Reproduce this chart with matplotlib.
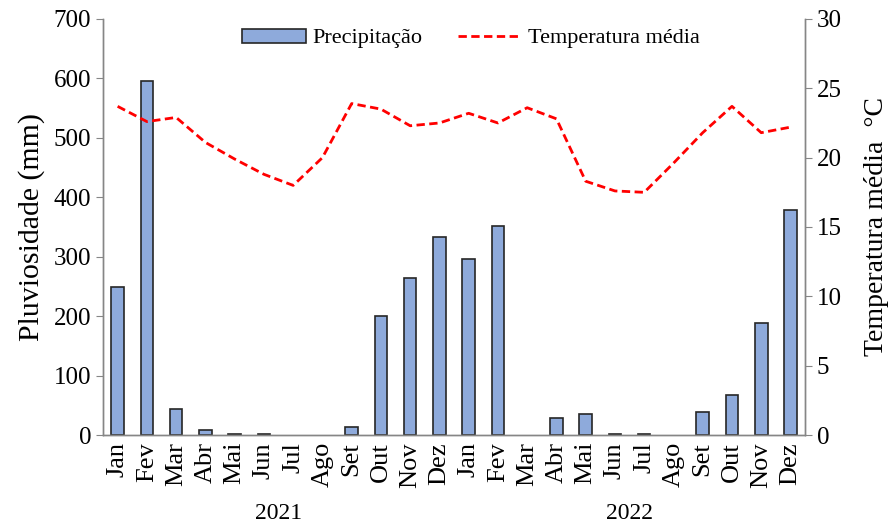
import matplotlib.pyplot as plt
import numpy as np

plt.rcParams['font.family'] = ['Liberation Serif', 'DejaVu Serif']

meses = ['Jan', 'Fev', 'Mar', 'Abr', 'Mai', 'Jun', 'Jul', 'Ago', 'Set', 'Out', 'Nov', 'Dez'] * 2
anos = ['2021', '2022']

# precipitação mensal (mm)
chuva = [249, 595, 43, 8, 1, 2, 0, 0, 14, 201, 264, 333,
         296, 351, 0, 28, 36, 1, 1, 0, 39, 67, 188, 378]
# temperatura média mensal (°C)
temp = [23.7, 22.6, 22.9, 21.1, 19.9, 18.8, 18.0, 20.0, 23.9, 23.5, 22.3, 22.5,
        23.2, 22.5, 23.6, 22.8, 18.3, 17.6, 17.5, 19.6, 21.8, 23.7, 21.8, 22.2]

x = np.arange(len(meses))

fig = plt.figure(figsize=(8.91, 5.24), dpi=100)
ax = fig.add_axes([0.1156, 0.1698, 0.788, 0.794])
ax2 = ax.twinx()

# meses sem chuva ficam sem contorno
bordas = [1.2 if v > 0 else 0 for v in chuva]
ax.bar(x, chuva, width=0.43, color='#8eaadb', edgecolor='#262626', linewidth=bordas,
       label='Precipitação', zorder=2)
ax2.plot(x, temp, color='#ff0000', linestyle=(0, (3, 1.6)), linewidth=2.0,
         label='Temperatura média', zorder=3)

ax.set_xlim(-0.5, len(meses) - 0.5)
ax.set_ylim(0, 700)
ax.set_yticks(range(0, 701, 100))
ax2.set_ylim(0, 30)
ax2.set_yticks(range(0, 31, 5))

ax.set_xticks(x)
ax.set_xticklabels(meses, rotation=90, fontsize=19)
ax.tick_params(axis='x', length=0, pad=5)
ax.tick_params(axis='y', labelsize=18, length=5, color='#868686', direction='out')
ax2.tick_params(axis='y', labelsize=18, length=5, color='#868686', direction='out')

for a in (ax, ax2):
    a.spines['top'].set_visible(False)
    for s in ('left', 'right', 'bottom'):
        a.spines[s].set_color('#868686')
        a.spines[s].set_linewidth(1.0)

ax.set_ylabel('Pluviosidade (mm)', fontsize=21.5, labelpad=6)
ax2.set_ylabel('Temperatura média  °C', fontsize=20, labelpad=16)

# rótulos dos anos abaixo dos meses
for i, ano in enumerate(anos):
    ax.text(i * 12 + 5.5, -0.1875, ano, transform=ax.get_xaxis_transform(),
            ha='center', va='center', fontsize=17)

h1, l1 = ax.get_legend_handles_labels()
h2, l2 = ax2.get_legend_handles_labels()
ax2.legend(h1 + h2, l1 + l2, loc='upper center', bbox_to_anchor=(0.524, 1.025),
           ncol=2, frameon=False, fontsize=16, handlelength=2.85, handleheight=0.6,
           columnspacing=1.6, handletextpad=0.3)

fig.savefig('out.png', dpi=100)
